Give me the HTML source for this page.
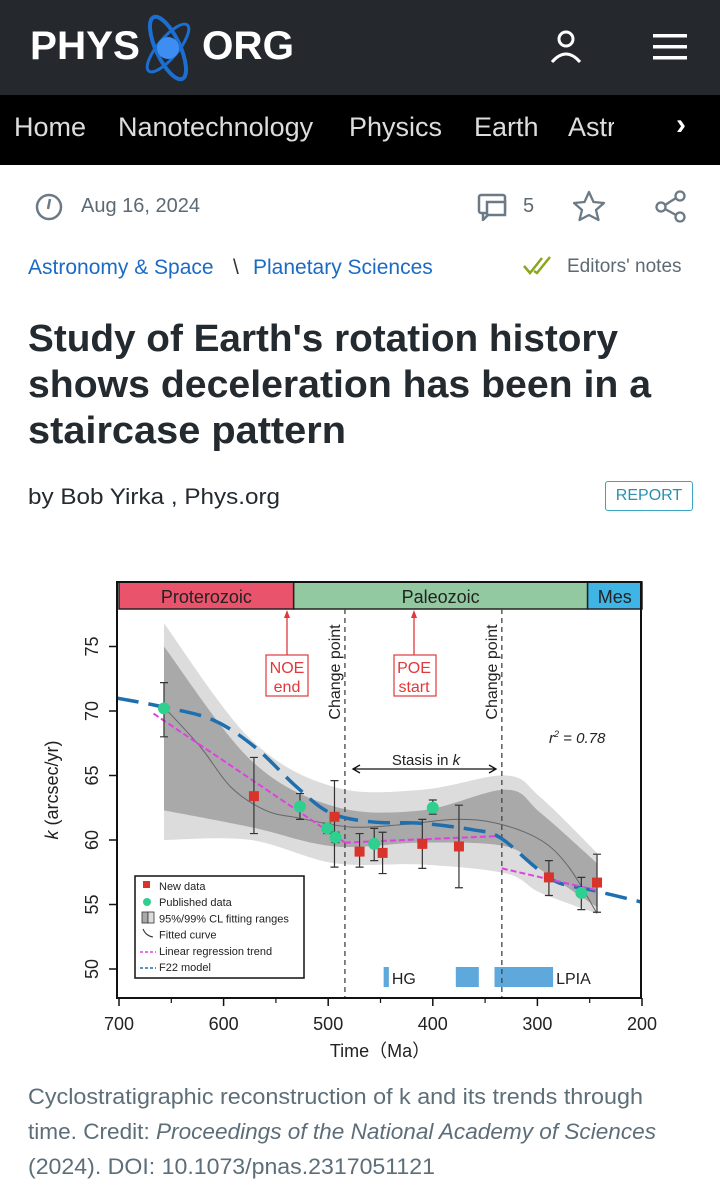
<!DOCTYPE html>
<html><head><meta charset="utf-8">
<style>
*{margin:0;padding:0;box-sizing:border-box}
body{width:720px;height:1200px;overflow:hidden;background:#fff;font-family:"Liberation Sans",sans-serif;position:relative}
.abs{position:absolute;white-space:nowrap;transform-origin:0 50%}
.fit{display:inline-block}
</style></head><body>
<div style="position:absolute;left:0;top:0;width:720px;height:95px;background:#25282d"></div>
<div class="abs fit" data-w="110" style="left:30px;top:26px;font:bold 40px 'Liberation Sans',sans-serif;color:#fff;line-height:40px">PHYS</div>
<svg style="position:absolute;left:138px;top:8px" width="60" height="80" viewBox="0 0 60 80">
<ellipse cx="30" cy="40" rx="12" ry="34" fill="none" stroke="#1c6fd0" stroke-width="4" transform="rotate(-25 30 40)"/>
<ellipse cx="30" cy="40" rx="10" ry="30" fill="none" stroke="#1c6fd0" stroke-width="3" transform="rotate(40 30 40)"/>
<circle cx="30" cy="40" r="11" fill="#3d8ef0"/></svg>
<div class="abs fit" data-w="92" style="left:202px;top:26px;font:bold 40px 'Liberation Sans',sans-serif;color:#fff;line-height:40px">ORG</div>
<svg style="position:absolute;left:548px;top:28px" width="36" height="36"><circle cx="18" cy="11" r="7" fill="none" stroke="#fff" stroke-width="3"/><path d="M4 34 Q18 18 32 34" fill="none" stroke="#fff" stroke-width="3"/></svg>
<svg style="position:absolute;left:653px;top:34px" width="34" height="26"><rect y="0" width="34" height="3.5" fill="#fff"/><rect y="11" width="34" height="3.5" fill="#fff"/><rect y="22" width="34" height="3.5" fill="#fff"/></svg>

<div style="position:absolute;left:0;top:95px;width:720px;height:70px;background:#000"></div>
<div class="abs" style="left:14px;top:112px;font-size:27px;color:#ddd">Home</div>
<div class="abs" style="left:118px;top:112px;font-size:27px;color:#ddd">Nanotechnology</div>
<div class="abs" style="left:349px;top:112px;font-size:27px;color:#ddd">Physics</div>
<div class="abs" style="left:474px;top:112px;font-size:27px;color:#ddd">Earth</div>
<div class="abs" style="left:568px;top:112px;font-size:27px;color:#ddd;width:46px;overflow:hidden">Astronomy</div>
<div class="abs" style="left:676px;top:108px;font:bold 30px 'Liberation Sans';color:#fff">›</div>

<svg style="position:absolute;left:35px;top:193px" width="28" height="28"><circle cx="14" cy="14" r="12" fill="none" stroke="#6b7a86" stroke-width="2.5"/><path d="M15 6 L13 16" stroke="#6b7a86" stroke-width="2.5"/></svg>
<div class="abs" style="left:81px;top:195px;font-size:20px;color:#5d6a74">Aug 16, 2024</div>
<svg style="position:absolute;left:477px;top:193px" width="32" height="28"><rect x="2" y="2" width="26" height="18" rx="2" fill="none" stroke="#6b7a86" stroke-width="2.5"/><rect x="10" y="9" width="18" height="13" fill="#fff" stroke="#6b7a86" stroke-width="2.5"/><path d="M6 20 L6 27 L11 22" fill="none" stroke="#6b7a86" stroke-width="2.5"/></svg>
<div class="abs" style="left:523px;top:195px;font-size:20px;color:#5d6a74">5</div>
<svg style="position:absolute;left:572px;top:190px" width="34" height="32"><polygon points="17,2 21.5,12 32,13 24,20 26.5,30 17,25 7.5,30 10,20 2,13 12.5,12" fill="none" stroke="#6b7a86" stroke-width="2.3" stroke-linejoin="round"/></svg>
<svg style="position:absolute;left:654px;top:190px" width="34" height="34"><circle cx="26" cy="6" r="4.5" fill="none" stroke="#6b7a86" stroke-width="2.3"/><circle cx="7" cy="17" r="4.5" fill="none" stroke="#6b7a86" stroke-width="2.3"/><circle cx="26" cy="27" r="4.5" fill="none" stroke="#6b7a86" stroke-width="2.3"/><path d="M11 15 L22 8 M11 19 L22 25" stroke="#6b7a86" stroke-width="2.3"/></svg>

<div class="abs" style="left:28px;top:256px;font-size:21px;color:#1b6bc4">Astronomy &amp; Space</div>
<div class="abs" style="left:233px;top:256px;font-size:21px;color:#333">\</div>
<div class="abs" style="left:253px;top:256px;font-size:21px;color:#1b6bc4">Planetary Sciences</div>
<svg style="position:absolute;left:522px;top:254px" width="34" height="22"><path d="M2 12 L8 19 L20 4 M12 17 L15 19 L28 3" fill="none" stroke="#8aa61e" stroke-width="2.5"/></svg>
<div class="abs" style="left:567px;top:256px;font-size:19px;color:#5d6a74">Editors' notes</div>

<div class="abs fit" data-w="590" style="left:28px;top:317px;font:bold 38px 'Liberation Sans';color:#232a30;line-height:44px">Study of Earth's rotation history</div>
<div class="abs fit" data-w="623" style="left:28px;top:363px;font:bold 38px 'Liberation Sans';color:#232a30;line-height:44px">shows deceleration has been in a</div>
<div class="abs fit" data-w="318" style="left:28px;top:409px;font:bold 38px 'Liberation Sans';color:#232a30;line-height:44px">staircase pattern</div>
<div class="abs fit" data-w="252" style="left:28px;top:484px;font-size:22px;color:#232a30;line-height:26px">by Bob Yirka , Phys.org</div>
<div style="position:absolute;left:605px;top:481px;width:88px;height:30px;border:1.5px solid #3aa3bf;border-radius:3px;color:#2b8fb0;font-size:16px;text-align:center;line-height:27px">REPORT</div>

<svg id="chart" style="position:absolute;left:0;top:560px" width="720" height="510" viewBox="0 560 720 510"></svg>

<div class="abs fit" data-w="615" style="left:28px;top:1084px;font-size:22px;color:#5d6e79;line-height:26px">Cyclostratigraphic reconstruction of k and its trends through</div>
<div class="abs fit" data-w="628" style="left:28px;top:1119px;font-size:22px;color:#5d6e79;line-height:26px">time. Credit: <i>Proceedings of the National Academy of Sciences</i></div>
<div class="abs fit" data-w="407" style="left:28px;top:1154px;font-size:22px;color:#5d6e79;line-height:26px">(2024). DOI: 10.1073/pnas.2317051121</div>

<script>
// ---- chart data ----
const newTimes=[571,494,470,448,410,375,289,243];
const newK=[63.4,61.8,59.1,59.0,59.7,59.5,57.1,56.7];
const newHi=[66.4,64.6,60.5,60.6,61.6,62.7,58.4,58.9];
const newLo=[60.5,57.9,57.9,57.4,57.8,56.3,55.7,54.4];
const pubTimes=[657,527,501,493,456,400,258];
const pubK=[70.2,62.6,60.9,60.2,59.7,62.5,55.9];
const pubHi=[72.2,63.6,61.3,60.6,60.9,63.1,57.1];
const pubLo=[68.0,61.6,60.5,59.8,58.4,62.0,54.6];
const f22Times=[702,657,610,570,530,498,458,412,362,336,302,280,247,201];
const f22K=[71,70.3,69.3,67.2,64.1,62.1,61.4,61.3,60.8,60.2,57.9,56.7,56.1,55.2];
const fitTimes=[657,622,593,560,528,478,428,379,339,297,270,243];
const fitK=[70.3,67.2,64.1,62.3,61.7,61.0,61.2,61.6,61.3,60.0,57.9,54.3];
const bandTimes=[657,574,494,410,330,297,243];
const outerHi=[76.8,67.8,64.1,63.9,65.0,63.3,59.0];
const innerHi=[75.0,66.2,62.6,62.3,63.9,62.1,58.2];
const innerLo=[62.3,61.0,59.5,59.8,59.5,57.7,54.8];
const outerLo=[60.0,60.0,58.2,58.1,57.4,55.9,54.3];
const regTimes=[[667,484],[484,339],[334,243]];
const regK=[[69.8,59.8],[59.8,60.3],[57.8,56.1]];
const changePoints=[484,334];
const xTicks=[700,600,500,400,300,200];
const yTicks=[50,55,60,65,70,75];
const eras=[["Proterozoic",700,533,"#e9536b"],["Paleozoic",533,252,"#93c9a0"],["Mes",252,200,"#3fb5e6"]];
const glaciations=[[447,442,"HG"],[378,356,""],[341,285,"LPIA"]];

const X=t=>119+(700-t)*1.046;
const Y=k=>840-(k-60)*12.9;
const svg=document.getElementById('chart');
const NS='http://www.w3.org/2000/svg';
function mk(tag,attrs,parent){const e=document.createElementNS(NS,tag);for(const a in attrs)e.setAttribute(a,attrs[a]);(parent||svg).appendChild(e);return e;}
function smooth(pts){let d='M'+pts[0][0]+' '+pts[0][1];for(let i=0;i<pts.length-1;i++){const p0=pts[Math.max(0,i-1)],p1=pts[i],p2=pts[i+1],p3=pts[Math.min(pts.length-1,i+2)];const c1=[p1[0]+(p2[0]-p0[0])/6,p1[1]+(p2[1]-p0[1])/6],c2=[p2[0]-(p3[0]-p1[0])/6,p2[1]-(p3[1]-p1[1])/6];d+=` C${c1[0]} ${c1[1]} ${c2[0]} ${c2[1]} ${p2[0]} ${p2[1]}`;}return d;}
function band(hi,lo){const up=bandTimes.map((t,i)=>[X(t),Y(hi[i])]);const dn=bandTimes.map((t,i)=>[X(t),Y(lo[i])]).reverse();const d1=smooth(up);const d2=smooth(dn).replace('M','L');return d1+' '+d2+' Z';}
let e;
e=mk('rect',{x:117,y:582,width:524,height:416,fill:'#fff'});


e=mk('path',{d:band(outerHi,outerLo),fill:'#dcdcdc'});


e=mk('path',{d:band(innerHi,innerLo),fill:'#a9a9a9'});


// eras
eras.forEach(r=>{const x1=X(r[1]),x2=X(r[2]);
 e=mk('rect',{x:x1,y:582,width:x2-x1,height:27,fill:r[3],stroke:'#222','stroke-width':1.5});
 
 
 e=mk('text',{x:(x1+x2)/2,y:603,'text-anchor':'middle','font-size':18,fill:'#222','font-family':'Liberation Sans'});e.textContent=r[0];
 
 });
// glaciations
glaciations.forEach(g=>{const x1=X(g[0]),x2=X(g[1]);
 e=mk('rect',{x:x1,y:967,width:x2-x1,height:20,fill:'#5fa8dc'});
 
 
 if(g[2]){e=mk('text',{x:x2+3,y:984,'font-size':16,fill:'#222','font-family':'Liberation Sans'});e.textContent=g[2];
 
 }});
// change points
changePoints.forEach(t=>{e=mk('line',{x1:X(t),x2:X(t),y1:609,y2:998,stroke:'#444','stroke-width':1.3,'stroke-dasharray':'5 4'});
 
 
 e=mk('text',{x:0,y:0,'font-size':16,fill:'#222','font-family':'Liberation Sans','text-anchor':'middle',transform:`translate(${X(t)-5},672) rotate(-90)`});e.textContent='Change point';
 
 });
// fitted curve
e=mk('path',{d:smooth(fitTimes.map((t,i)=>[X(t),Y(fitK[i])])),fill:'none',stroke:'#666','stroke-width':1});


// F22
e=mk('path',{d:smooth(f22Times.map((t,i)=>[X(t),Y(f22K[i])])),fill:'none',stroke:'#1f6fae','stroke-width':3.5,'stroke-dasharray':'22 10'});


// regression
regTimes.forEach((s,i)=>{e=mk('line',{x1:X(s[0]),y1:Y(regK[i][0]),x2:X(s[1]),y2:Y(regK[i][1]),stroke:'#e040e0','stroke-width':2,'stroke-dasharray':'6 3'});
 
 });
function errbar(t,hi,lo){const x=X(t);mk('path',{d:`M${x} ${Y(hi)}V${Y(lo)}M${x-4} ${Y(hi)}h8M${x-4} ${Y(lo)}h8`,stroke:'#333','stroke-width':1.2,fill:'none'});}
newTimes.forEach((t,i)=>{errbar(t,newHi[i],newLo[i]);
 e=mk('rect',{x:X(t)-5,y:Y(newK[i])-5,width:10,height:10,fill:'#d9342b'});
 
 });
pubTimes.forEach((t,i)=>{errbar(t,pubHi[i],pubLo[i]);
 e=mk('circle',{cx:X(t),cy:Y(pubK[i]),r:6,fill:'#2ecf8f'});
 
 });
// frame
mk('rect',{x:117,y:582,width:524,height:416,fill:'none',stroke:'#111','stroke-width':2});
// axes
xTicks.forEach(t=>{mk('line',{x1:X(t),x2:X(t),y1:998,y2:1006,stroke:'#111','stroke-width':1.5});
 e=mk('text',{x:X(t),y:1030,'text-anchor':'middle','font-size':18,fill:'#222','font-family':'Liberation Sans'});e.textContent=t;
 
 
 if(t>200)mk('line',{x1:X(t-50),x2:X(t-50),y1:998,y2:1003,stroke:'#111','stroke-width':1.2});});
yTicks.forEach(k=>{mk('line',{x1:109,x2:117,y1:Y(k),y2:Y(k),stroke:'#111','stroke-width':1.5});
 e=mk('text',{x:0,y:0,'text-anchor':'middle','font-size':18,fill:'#222','font-family':'Liberation Sans',transform:`translate(98,${Y(k)}) rotate(-90)`});e.textContent=k;
 
 });
e=mk('text',{x:380,y:1057,'text-anchor':'middle','font-size':18,fill:'#222','font-family':'Liberation Sans'});e.textContent='Time（Ma）';


e=mk('text',{x:0,y:0,'text-anchor':'middle','font-size':18,fill:'#222','font-family':'Liberation Sans',transform:'translate(58,790) rotate(-90)'});e.innerHTML='<tspan font-style="italic">k</tspan> (arcsec/yr)';


// annotations
[[287,'NOE','end',266],[414,'POE','start',394]].forEach(a=>{
 mk('line',{x1:a[0],x2:a[0],y1:614,y2:655,stroke:'#e0393a','stroke-width':1.3});
 mk('path',{d:`M${a[0]-3} 618 L${a[0]} 610 L${a[0]+3} 618Z`,fill:'#e0393a'});
 e=mk('rect',{x:a[3],y:655,width:42,height:41,fill:'#fff',stroke:'#e0393a','stroke-width':1.2});
 
 
 e=mk('text',{x:a[0],y:673,'text-anchor':'middle','font-size':16,fill:'#e0393a','font-family':'Liberation Sans'});e.textContent=a[1];
 e=mk('text',{x:a[0],y:692,'text-anchor':'middle','font-size':16,fill:'#e0393a','font-family':'Liberation Sans'});e.textContent=a[2];});
mk('path',{d:'M353 769 H496 M360 765 L353 769 L360 773 M489 765 L496 769 L489 773',stroke:'#111','stroke-width':1.3,fill:'none'});
e=mk('text',{x:426,y:765,'text-anchor':'middle','font-size':15,fill:'#222','font-family':'Liberation Sans'});e.innerHTML='Stasis in <tspan font-style="italic">k</tspan>';


e=mk('text',{x:549,y:743,'font-size':15,fill:'#222','font-style':'italic','font-family':'Liberation Sans'});e.innerHTML='r<tspan dy="-6" font-size="9">2</tspan><tspan dy="6"> = 0.78</tspan>';


// legend
e=mk('rect',{x:135,y:876,width:169,height:102,fill:'#fff',stroke:'#111','stroke-width':1.5});


const leg=['New data','Published data','95%/99% CL fitting ranges','Fitted curve','Linear  regression trend','F22 model'];
leg.forEach((s,i)=>{const y=890+i*16.2;
 e=mk('text',{x:159,y:y,'font-size':11,fill:'#222','font-family':'Liberation Sans'});e.textContent=s;
 
 });
mk('rect',{x:143,y:881,width:7,height:7,fill:'#d9342b'});
mk('circle',{cx:147,cy:902,r:4,fill:'#2ecf8f'});
mk('rect',{x:142,y:912,width:6,height:11,fill:'#a9a9a9',stroke:'#333','stroke-width':0.8});
mk('rect',{x:148,y:912,width:6,height:11,fill:'#dcdcdc',stroke:'#333','stroke-width':0.8});
mk('path',{d:'M143 929 Q146 936 153 937',stroke:'#333',fill:'none'});
mk('line',{x1:140,x2:156,y1:952,y2:952,stroke:'#e040e0','stroke-width':1.5,'stroke-dasharray':'3 2'});
mk('line',{x1:140,x2:156,y1:968,y2:968,stroke:'#1f6fae','stroke-width':1.5,'stroke-dasharray':'3 2'});

// fit text widths
document.querySelectorAll('.fit').forEach(el=>{const w=+el.dataset.w;const s=el.getBoundingClientRect().width;if(s>0)el.style.transform=`scaleX(${w/s})`;});
</script>
</body></html>
